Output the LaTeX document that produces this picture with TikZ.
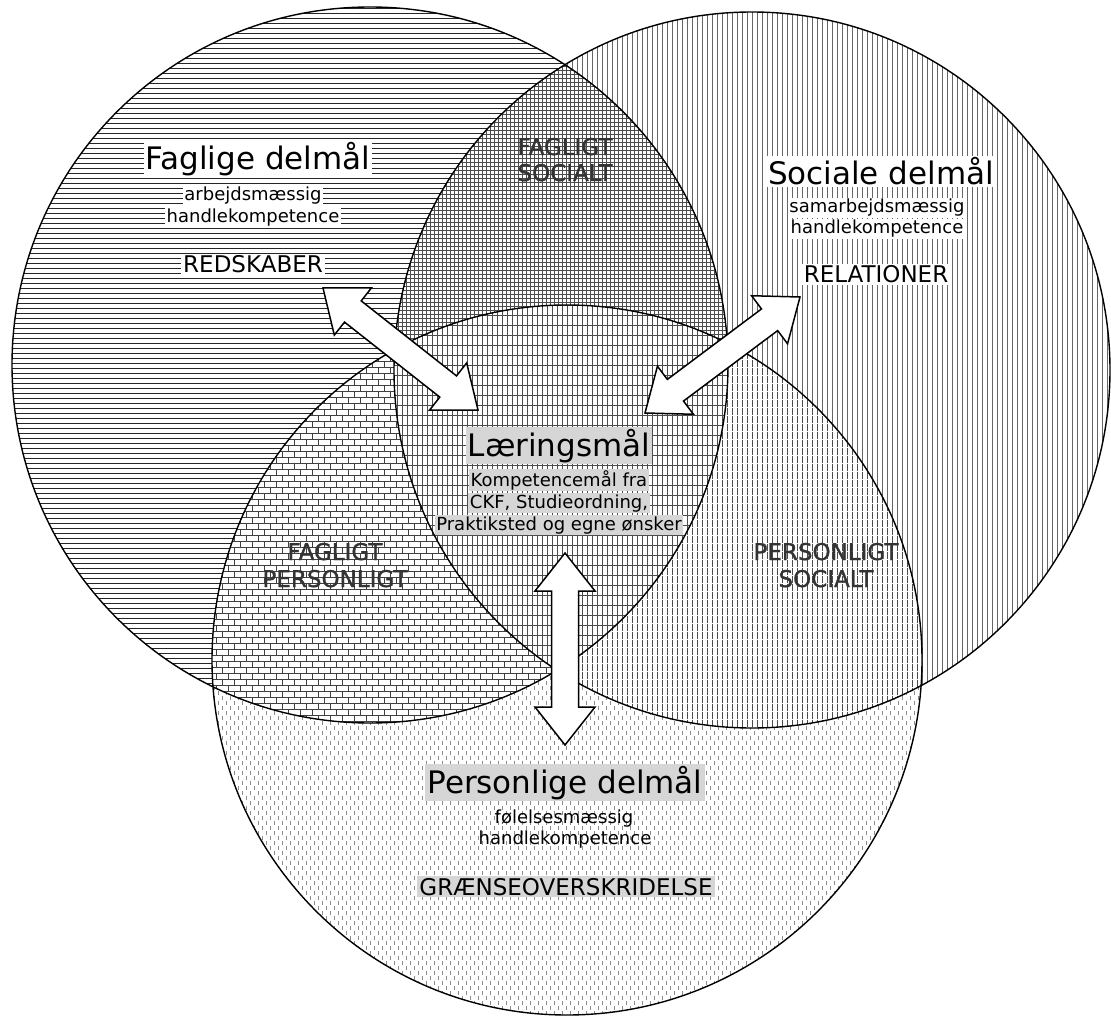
\documentclass[tikz,border=0pt]{standalone}
\usepackage{fontspec}
\setmainfont{DejaVu Sans}
\newfontfamily\lensfont[FakeBold=1.2]{DejaVu Sans}
\usetikzlibrary{patterns,calc}

\pgfdeclarepatternformonly{hlinesL}{\pgfqpoint{-1pt}{-1pt}}{\pgfqpoint{6pt}{6pt}}{\pgfqpoint{5pt}{5pt}}{%
 \pgfsetlinewidth{1.7pt}\pgfpathmoveto{\pgfqpoint{-0.2pt}{2.5pt}}\pgfpathlineto{\pgfqpoint{5.2pt}{2.5pt}}\pgfusepath{stroke}}
\pgfdeclarepatternformonly{vlinesR}{\pgfqpoint{-1pt}{-1pt}}{\pgfqpoint{6pt}{6pt}}{\pgfqpoint{5pt}{5pt}}{%
 \pgfsetlinewidth{1.3pt}\pgfpathmoveto{\pgfqpoint{2.5pt}{-0.2pt}}\pgfpathlineto{\pgfqpoint{2.5pt}{5.2pt}}\pgfusepath{stroke}}
\pgfdeclarepatternformonly{dashB}{\pgfqpoint{-1pt}{-1pt}}{\pgfqpoint{9pt}{11pt}}{\pgfqpoint{8pt}{10pt}}{%
 \pgfsetlinewidth{1pt}\pgfpathmoveto{\pgfqpoint{2pt}{1pt}}\pgfpathlineto{\pgfqpoint{2pt}{4.5pt}}%
 \pgfpathmoveto{\pgfqpoint{6pt}{6pt}}\pgfpathlineto{\pgfqpoint{6pt}{9.5pt}}\pgfusepath{stroke}}
\pgfdeclarepatternformonly{gridLR}{\pgfqpoint{-1pt}{-1pt}}{\pgfqpoint{5pt}{5pt}}{\pgfqpoint{4pt}{4pt}}{%
 \pgfsetlinewidth{0.9pt}\pgfpathmoveto{\pgfqpoint{-0.2pt}{2pt}}\pgfpathlineto{\pgfqpoint{4.2pt}{2pt}}%
 \pgfpathmoveto{\pgfqpoint{2pt}{-0.2pt}}\pgfpathlineto{\pgfqpoint{2pt}{4.2pt}}\pgfusepath{stroke}}
\pgfdeclarepatternformonly{bricksLB}{\pgfqpoint{-1pt}{-1pt}}{\pgfqpoint{14pt}{13pt}}{\pgfqpoint{12pt}{12pt}}{%
 \pgfsetlinewidth{1pt}%
 \pgfpathmoveto{\pgfqpoint{-0.2pt}{0.5pt}}\pgfpathlineto{\pgfqpoint{12.2pt}{0.5pt}}%
 \pgfpathmoveto{\pgfqpoint{-0.2pt}{6.5pt}}\pgfpathlineto{\pgfqpoint{12.2pt}{6.5pt}}%
 \pgfpathmoveto{\pgfqpoint{0.5pt}{0.5pt}}\pgfpathlineto{\pgfqpoint{0.5pt}{6.5pt}}%
 \pgfpathmoveto{\pgfqpoint{6.5pt}{6.5pt}}\pgfpathlineto{\pgfqpoint{6.5pt}{12.5pt}}%
 \pgfusepath{stroke}}
\pgfdeclarepatternformonly{vdashRB}{\pgfqpoint{-1pt}{-1pt}}{\pgfqpoint{6pt}{9pt}}{\pgfqpoint{5pt}{8pt}}{%
 \pgfsetlinewidth{1.2pt}\pgfpathmoveto{\pgfqpoint{2.5pt}{0.5pt}}\pgfpathlineto{\pgfqpoint{2.5pt}{7.5pt}}\pgfusepath{stroke}}
\pgfdeclarepatternformonly{centerLRB}{\pgfqpoint{-1pt}{-1pt}}{\pgfqpoint{6pt}{11pt}}{\pgfqpoint{5pt}{10pt}}{%
 \pgfsetlinewidth{1.2pt}\pgfpathmoveto{\pgfqpoint{2.5pt}{-0.2pt}}\pgfpathlineto{\pgfqpoint{2.5pt}{10.2pt}}\pgfusepath{stroke}%
 \pgfsetlinewidth{0.3pt}\pgfpathmoveto{\pgfqpoint{-0.2pt}{1pt}}\pgfpathlineto{\pgfqpoint{5.2pt}{1pt}}\pgfusepath{stroke}}

\newcommand\dblarrow[2]{%
 \path ($(#1)!38pt!(#2)$) coordinate (#1hb) ($(#2)!38pt!(#1)$) coordinate (#2hb);
 \draw[blockarrow] (#1) -- ($(#1hb)!30pt!-90:(#2)$) -- ($(#1hb)!13.5pt!-90:(#2)$)
   -- ($(#2hb)!13.5pt!90:(#1)$) -- ($(#2hb)!30pt!90:(#1)$) -- (#2)
   -- ($(#2hb)!30pt!-90:(#1)$) -- ($(#2hb)!13.5pt!-90:(#1)$)
   -- ($(#1hb)!13.5pt!90:(#2)$) -- ($(#1hb)!30pt!90:(#2)$) -- cycle;}

\tikzset{
 regL/.style={preaction={fill=white},pattern=hlinesL,pattern color=black!85},
 regR/.style={preaction={fill=white},pattern=vlinesR,pattern color=black!60},
 regB/.style={preaction={fill=white},pattern=dashB,pattern color=black!45},
 regLR/.style={preaction={fill=white},pattern=gridLR,pattern color=black!70},
 regLB/.style={preaction={fill=white},pattern=bricksLB,pattern color=black!75},
 regRB/.style={preaction={fill=white},pattern=vdashRB,pattern color=black!70},
 regLRB/.style={preaction={fill=white},pattern=centerLRB,pattern color=black!70},
 ring/.style={draw=black,line width=1.4pt},
 blockarrow/.style={fill=white,draw=black,line width=1.5pt,line join=miter},
 title/.style={font=\fontsize{31}{31}\selectfont,anchor=base,inner sep=2pt},
 sub/.style={font=\fontsize{18}{18}\selectfont,anchor=base,inner sep=1.5pt},
 caps/.style={font=\fontsize{23}{23}\selectfont,anchor=base,inner sep=2pt},
 wbox/.style={fill=white},
 gbox/.style={fill=black!16},
 lens/.style={font=\lensfont\fontsize{23}{23}\selectfont,anchor=base,text=black!80,inner sep=0pt},
}

\begin{document}
\begin{tikzpicture}[x=1pt,y=-1pt]
\useasboundingbox (0,0) rectangle (1111,1016);
\fill[white] (0,0) rectangle (1111,1016);

\coordinate (cL) at (370,365);
\coordinate (cR) at (752,370);
\coordinate (cB) at (567,660);
\def\rL{358pt}\def\rR{358pt}\def\rB{355pt}

% single circles
\path[regL] (cL) circle[radius=\rL];
\path[regR] (cR) circle[radius=\rR];
\path[regB] (cB) circle[radius=\rB];
% pairwise overlaps
\begin{scope}\clip (cL) circle[radius=\rL]; \path[regLR] (cR) circle[radius=\rR];\end{scope}
\begin{scope}\clip (cL) circle[radius=\rL]; \path[regLB] (cB) circle[radius=\rB];\end{scope}
\begin{scope}\clip (cR) circle[radius=\rR]; \path[regRB] (cB) circle[radius=\rB];\end{scope}
% triple overlap
\begin{scope}\clip (cL) circle[radius=\rL]; \clip (cR) circle[radius=\rR]; \path[regLRB] (cB) circle[radius=\rB];\end{scope}
% outlines
\draw[ring] (cL) circle[radius=\rL];
\draw[ring] (cR) circle[radius=\rR];
\draw[ring] (cB) circle[radius=\rB];

% arrows
\coordinate (ulA) at (323,288); \coordinate (ulB) at (478,410);
\coordinate (urA) at (800,297); \coordinate (urB) at (645,413);
\coordinate (vA) at (565,553);  \coordinate (vB) at (565,745);
\dblarrow{ulA}{ulB}
\dblarrow{urA}{urB}
\dblarrow{vA}{vB}

% left circle texts
\node[title,wbox] (fag) at (258,170) {Faglige delmål};
\node[sub,wbox] (fag1) at (253,201) {arbejdsmæssig};
\node[sub,wbox] (fag2) at (253,223) {handlekompetence};
\node[caps,wbox] (fag3) at (253,273) {REDSKABER};

% right circle texts
\node[title,wbox] (soc) at (881,185) {Sociale delmål};
\node[sub,wbox] (soc1) at (877,213) {samarbejdsmæssig};
\node[sub,wbox] (soc2) at (877,234) {handlekompetence};
\node[caps,wbox] (soc3) at (876,283) {RELATIONER};

% center texts
\node[title,gbox] (lar) at (559,456) {Læringsmål};
\node[sub,gbox] (lar1) at (559,486) {Kompetencemål fra};
\node[sub,gbox] (lar2) at (559,508) {CKF, Studieordning,};
\node[sub,gbox] (lar3) at (559,530) {Praktiksted og egne ønsker};

% bottom circle texts
\node[title,gbox] (per) at (565,793) {Personlige delmål};
\node[sub] (per1) at (564,823) {følelsesmæssig};
\node[sub] (per2) at (565,844) {handlekompetence};
\node[caps,gbox] (per3) at (566,895) {GRÆNSEOVERSKRIDELSE};

% overlap labels
\node[lens] (fs1) at (565,155) {FAGLIGT};
\node[lens] (fs2) at (565,181) {SOCIALT};
\node[lens] (fp1) at (335,560) {FAGLIGT};
\node[lens] (fp2) at (335,587) {PERSONLIGT};
\node[lens] (ps1) at (826,560) {PERSONLIGT};
\node[lens] (ps2) at (826,587) {SOCIALT};
\end{tikzpicture}
\end{document}
